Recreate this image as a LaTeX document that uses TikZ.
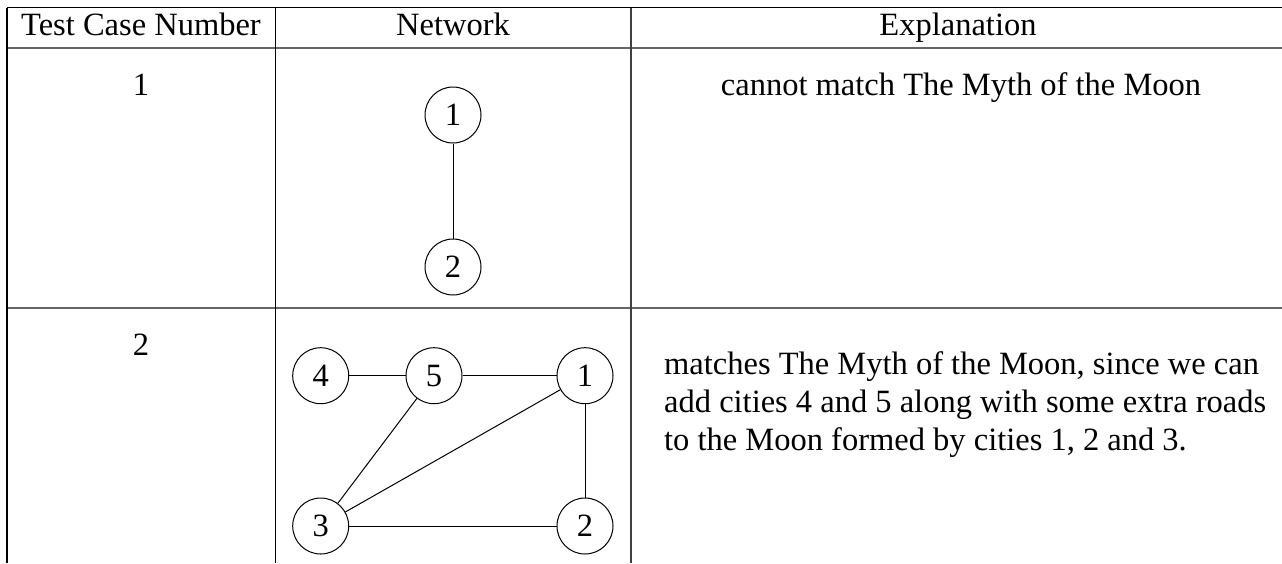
\documentclass[tikz,border=0pt]{standalone}
\usepackage{fontspec}
\setmainfont{Liberation Serif}
\begin{document}
\begin{tikzpicture}[x=1pt,y=-1pt,
  txt/.style={font=\fontsize{32.5}{38}\selectfont, inner sep=0pt, anchor=base},
  city/.style={circle, draw, line width=1pt, minimum size=56pt, inner sep=0pt, font=\fontsize{32.5}{38}\selectfont},
  road/.style={line width=1pt},
  hrule/.style={line width=1.6pt, draw=black!60},
  vrule/.style={line width=1.3pt}]
\useasboundingbox (0,0) rectangle (1282,563);
% table rules
\draw[line width=1.3pt] (7,7.5) -- (1282,7.5);
\draw[hrule] (7,48) -- (1282,48);
\draw[hrule] (7,308) -- (1282,308);
\draw[vrule] (7,7.5) -- (7,563);
\draw[vrule] (275.5,7.5) -- (275.5,563);
\draw[vrule, draw=black!75] (631,7.5) -- (631,563);
% header
\node[txt] (h1) at (141,35) {Test Case Number};
\node[txt] (h2) at (453,35) {Network};
\node[txt] (h3) at (958,35) {Explanation};
% row 1
\node[txt] (n1) at (141,95) {1};
\node[txt] (e1) at (961,95) {cannot match The Myth of the Moon};
\node[city] (a1) at (453,115) {1};
\node[city] (a2) at (453,267) {2};
\draw[road] (a1) -- (a2);
% row 2
\node[txt] (n2) at (141,355) {2};
\node[txt, anchor=base west] (e2a) at (664,374) {matches The Myth of the Moon, since we can};
\node[txt, anchor=base west] (e2b) at (664,412) {add cities 4 and 5 along with some extra roads};
\node[txt, anchor=base west] (e2c) at (664,450) {to the Moon formed by cities 1, 2 and 3.};
\node[city] (b4) at (320.7,375.7) {4};
\node[city] (b5) at (434,375.7) {5};
\node[city] (b1) at (585,375.7) {1};
\node[city] (b3) at (320.7,526) {3};
\node[city] (b2) at (585,526) {2};
\draw[road] (b4) -- (b5);
\draw[road] (b5) -- (b1);
\draw[road] (b5) -- (b3);
\draw[road] (b1) -- (b3);
\draw[road] (b1) -- (b2);
\draw[road] (b3) -- (b2);
\end{tikzpicture}
\end{document}
